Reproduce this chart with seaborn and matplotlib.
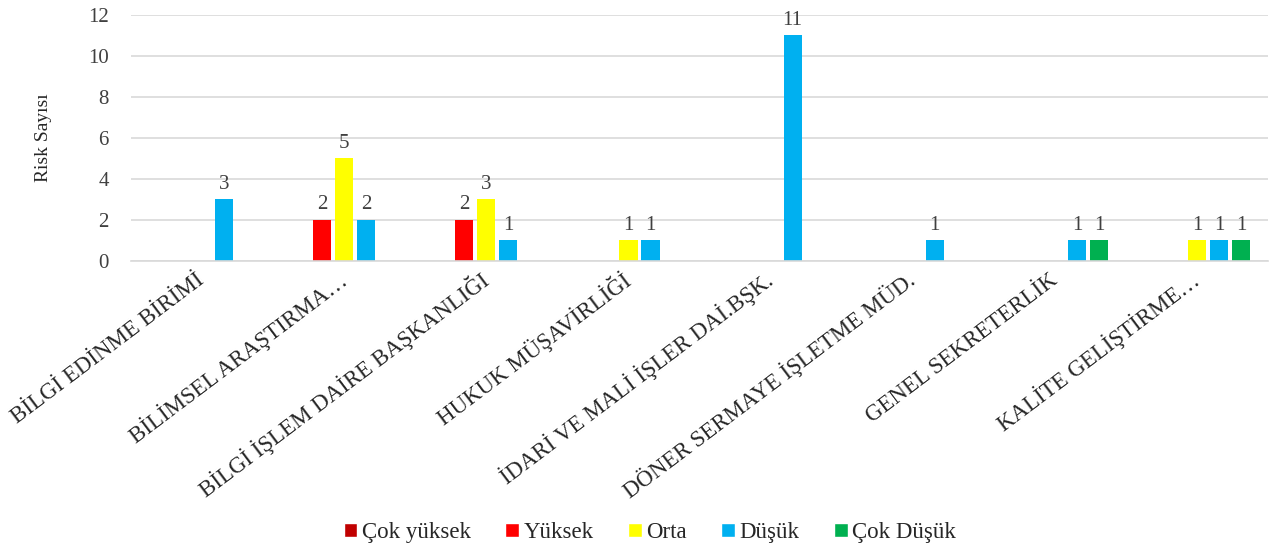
import pandas as pd
import matplotlib.pyplot as plt
import seaborn as sns
from matplotlib.patches import Patch

# data
birimler = ["BİLGİ EDİNME BİRİMİ", "BİLİMSEL ARAŞTIRMA…", "BİLGİ İŞLEM DAİRE BAŞKANLIĞI",
            "HUKUK MÜŞAVİRLİĞİ", "İDARİ VE MALİ İŞLER DAİ.BŞK.", "DÖNER SERMAYE İŞLETME MÜD.",
            "GENEL SEKRETERLİK", "KALİTE GELİŞTİRME…"]
seviyeler = ["Çok yüksek", "Yüksek", "Orta", "Düşük", "Çok Düşük"]
cok_yuksek = [0, 0, 0, 0, 0, 0, 0, 0]
yuksek = [0, 2, 2, 0, 0, 0, 0, 0]
orta = [0, 5, 3, 1, 0, 0, 0, 1]
dusuk = [3, 2, 1, 1, 11, 1, 1, 1]
cok_dusuk = [0, 0, 0, 0, 0, 0, 1, 1]
renkler = ["#C00000", "#FF0000", "#FFFF00", "#00B0F0", "#00B050"]

rows = []
for sev, vals in zip(seviyeler, [cok_yuksek, yuksek, orta, dusuk, cok_dusuk]):
    for b, v in zip(birimler, vals):
        rows.append({"Birim": b, "Seviye": sev, "Risk": v})
df = pd.DataFrame(rows)

sns.set_style("white")
plt.rcParams['font.family'] = ['Liberation Serif', 'DejaVu Serif']

fig = plt.figure(figsize=(12.87, 5.49), dpi=100)
ax = fig.add_axes([0.1018, 0.5246, 0.8835, 0.4481])

sns.barplot(data=df, x="Birim", y="Risk", hue="Seviye", order=birimler,
            hue_order=seviyeler, palette=renkler, width=0.775, gap=0.18,
            linewidth=0, saturation=1, legend=False, errorbar=None, ax=ax)

for c in ax.containers:
    labels = [f"{v:g}" if v > 0 else "" for v in c.datavalues]
    ax.bar_label(c, labels=labels, padding=4, fontsize=15, color="#404040")

ax.set_ylim(0, 12)
ax.set_yticks(range(0, 13, 2))
ax.set_xlim(-0.5, len(birimler) - 0.5)
ax.yaxis.grid(True, color="#D9D9D9", linewidth=1.2)
ax.set_axisbelow(True)
for s in ["top", "right", "left"]:
    ax.spines[s].set_visible(False)
ax.spines["bottom"].set_color("#D9D9D9")
ax.spines["bottom"].set_linewidth(1.2)
ax.tick_params(axis="both", length=0)
ax.tick_params(axis="y", labelsize=15, labelcolor="#404040", pad=16)
ax.set_xlabel("")
ax.set_ylabel("Risk Sayısı", fontsize=14, labelpad=26)
plt.setp(ax.get_xticklabels(), rotation=37, ha="right", va="center",
         rotation_mode="anchor", fontsize=16.5)
ax.tick_params(axis="x", pad=12)

handles = [Patch(facecolor=r, label=s) for s, r in zip(seviyeler, renkler)]
fig.legend(handles=handles, loc="center", bbox_to_anchor=(0.505, 0.03),
           ncol=5, frameon=False, fontsize=16.5, handlelength=0.6, handleheight=0.6,
           handletextpad=0.2, columnspacing=1.5)

fig.savefig("out.png", dpi=100)
